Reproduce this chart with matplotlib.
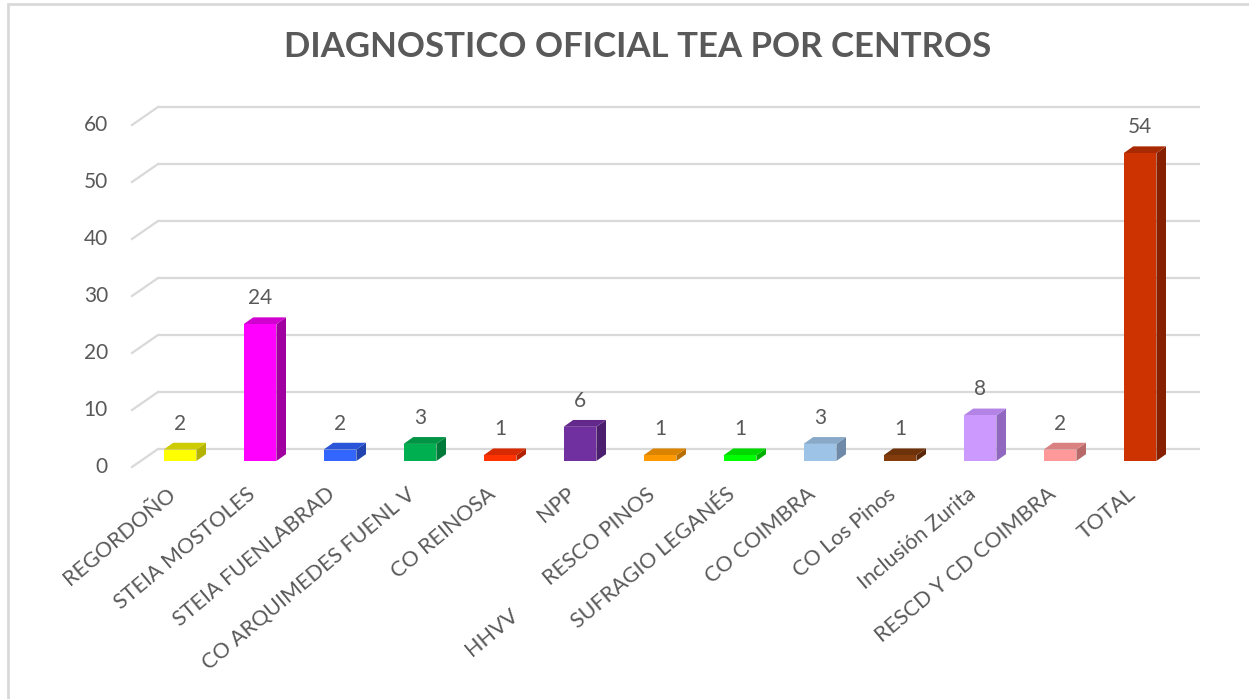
import matplotlib
matplotlib.use("Agg")
import matplotlib.pyplot as plt
from matplotlib.patches import Polygon, Rectangle

# ---------------- data ----------------
categories = ["REGORDOÑO", "STEIA MOSTOLES", "STEIA FUENLABRAD", "CO ARQUIMEDES FUENL V",
              "CO REINOSA", "NPP", "RESCO PINOS", "SUFRAGIO LEGANÉS", "CO COIMBRA",
              "CO Los Pinos", "Inclusión Zurita", "RESCD Y CD COIMBRA", "TOTAL"]
values = [2, 24, 2, 3, 1, 6, 1, 1, 3, 1, 8, 2, 54]
extra_label_for = "NPP"
extra_label = "HHVV"
front_colors = ["#FFFF00", "#FF00FF", "#3366FF", "#00B050", "#FF3300", "#7030A0",
                "#FF9900", "#00FF00", "#9DC3E6", "#843C0C", "#CC99FF", "#FF9999", "#CC3300"]
side_colors = ["#B3B300", "#A000A0", "#2244B0", "#007A38", "#B02200", "#4B1F6E",
               "#B86E00", "#00B000", "#6E8AA8", "#5A2808", "#9068C0", "#B86A6A", "#862000"]
top_colors = ["#CCCC00", "#D000D0", "#2A55D8", "#009444", "#D82A00", "#62288C",
              "#DB8400", "#00D800", "#88A9C8", "#6E320A", "#B384E6", "#D98080", "#A82A00"]
title = "DIAGNOSTICO OFICIAL TEA POR CENTROS"
yticks = [0, 10, 20, 30, 40, 50, 60]

# ---------------- layout ----------------
W_PX, H_PX = 1249, 699
fig = plt.figure(figsize=(W_PX / 100, H_PX / 100), dpi=100)
fig.patch.set_facecolor("white")
ax = fig.add_axes([0, 0, 1, 1])
ax.set_axis_off()

# pixel mapping: x index -> 180 + 80*i ; value -> 461 - 5.7*v (from top)
PX_X0, PX_DX = 180.0, 80.0
PX_Y0, PX_DY = 461.0, 5.7
ax.set_xlim(-PX_X0 / PX_DX, (W_PX - PX_X0) / PX_DX)
ax.set_ylim((PX_Y0 - H_PX) / PX_DY, PX_Y0 / PX_DY)

text_color = "#595959"
grid_color = "#D9D9D9"
font = "Lato"

bar_w = 0.41
depth_dx = 0.12
depth_dy = 1.2
back_dy = 12 / PX_DY
front_dy = 6 / PX_DY
back_left = -0.275
front_left = -0.6
right_end = 12.75

# gridlines (back wall + depth lines on left)
for t in yticks:
    ax.plot([back_left, right_end], [t + back_dy, t + back_dy], color=grid_color, lw=1.6,
            zorder=1, solid_capstyle="butt")
    ax.plot([front_left, back_left], [t - front_dy, t + back_dy], color=grid_color, lw=1.6,
            zorder=1)
    ax.text(-0.9, t - front_dy, str(t), ha="right", va="center", fontsize=15,
            color=text_color, family=font)

# bars
xs = list(range(len(values)))
ax.bar(xs, values, width=bar_w, color=front_colors, zorder=3, linewidth=0)
for i, v in enumerate(values):
    r = i + bar_w / 2
    l = i - bar_w / 2
    side = Polygon([(r, 0), (r + depth_dx, depth_dy), (r + depth_dx, v + depth_dy), (r, v)],
                   closed=True, facecolor=side_colors[i], edgecolor="none", zorder=2.9)
    top = Polygon([(l, v), (r, v), (r + depth_dx, v + depth_dy), (l + depth_dx, v + depth_dy)],
                  closed=True, facecolor=top_colors[i], edgecolor="none", zorder=2.9)
    ax.add_patch(side)
    ax.add_patch(top)
    ax.text(i, v + 26 / PX_DY, str(v), ha="center", va="center", fontsize=15,
            color=text_color, family=font, zorder=4)

# category labels
lab_y = (PX_Y0 - 484) / PX_DY
lab_dx = -0.17
rot = 40
for i, c in enumerate(categories):
    ax.text(i + lab_dx, lab_y, c, rotation=rot, rotation_mode="anchor", ha="right", va="top",
            fontsize=15.5, color=text_color, family=font)
    if c == extra_label_for:
        ax.text(i + lab_dx - 57 / PX_DX, lab_y - 121 / PX_DY, extra_label, rotation=rot,
                rotation_mode="anchor", ha="right", va="top", fontsize=15.5,
                color=text_color, family=font)

# title
fig.text(638 / W_PX, 1 - 57 / H_PX, title, ha="center", va="baseline", fontsize=25,
         fontweight="bold", color=text_color, family=font)

# chart area border
fig.patches.append(Rectangle((8 / W_PX, -0.1), 1.2, 1 - 4 / H_PX + 0.1, transform=fig.transFigure,
                             fill=False, edgecolor="#D9D9D9", linewidth=2, zorder=0))

fig.savefig("out.png", dpi=100, facecolor="white")
